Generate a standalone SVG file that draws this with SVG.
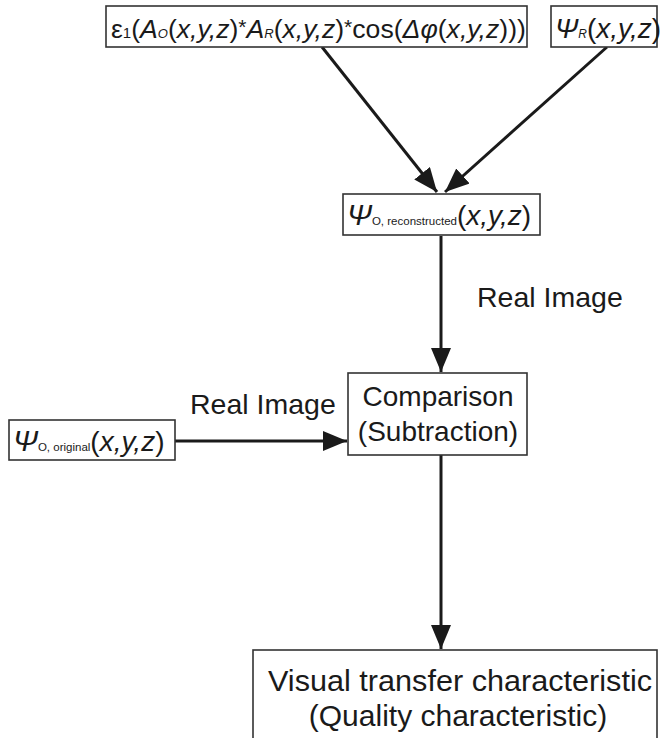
<svg xmlns="http://www.w3.org/2000/svg" width="661" height="738" viewBox="0 0 661 738">
<defs>
<marker id="ah" markerUnits="userSpaceOnUse" markerWidth="26" markerHeight="22" refX="24" refY="10" orient="auto">
<path d="M0,0 L24,10 L0,20 z" fill="#1a1a1a"/>
</marker>
<style>
.box{fill:#fff;stroke:#333;stroke-width:1.6}
.t{font-family:"Liberation Sans",Arial,sans-serif;fill:#1a1a1a}
.i{font-style:italic}
.c{stroke:#1a1a1a;stroke-width:3;fill:none;marker-end:url(#ah)}
</style>
</defs>
<rect width="661" height="738" fill="#fff"/>
<g id="connectors">
<line class="c" x1="322" y1="47" x2="437" y2="192"/>
<line class="c" x1="607" y1="47" x2="445" y2="192"/>
<line class="c" x1="441" y1="236" x2="441" y2="372"/>
<line class="c" x1="175" y1="441" x2="347" y2="441"/>
<line class="c" x1="441" y1="455" x2="441" y2="649"/>
</g>
<g id="amplitude">
<rect class="box" x="106" y="6" width="421" height="41"/>
<text class="t" x="111" y="38" font-size="26.6">ε<tspan font-size="15">1</tspan>(<tspan class="i">A</tspan><tspan class="i" font-size="13">O</tspan>(<tspan class="i">x,y,z</tspan>)<tspan font-size="21" baseline-shift="4">*</tspan><tspan class="i">A</tspan><tspan class="i" font-size="13">R</tspan>(<tspan class="i">x,y,z</tspan>)<tspan font-size="21" baseline-shift="4">*</tspan>cos(<tspan class="i">Δφ</tspan>(<tspan class="i">x,y,z</tspan>)))</text>
</g>
<g id="psiR">
<rect class="box" x="551" y="6" width="106" height="41"/>
<text class="t" x="555" y="38" font-size="28"><tspan class="i">Ψ</tspan><tspan class="i" font-size="12">R</tspan>(<tspan class="i">x,y,z</tspan>)</text>
</g>
<g id="reconstructed">
<rect class="box" x="343" y="194" width="197" height="41"/>
<text class="t" x="347" y="225" font-size="28"><tspan class="i" font-size="30">Ψ</tspan><tspan font-size="11.5">O, reconstructed</tspan>(<tspan class="i">x,y,z</tspan>)</text>
</g>
<g id="label-real-image-1">
<text class="t" x="477" y="307" font-size="28.5">Real Image</text>
</g>
<g id="original">
<rect class="box" x="9" y="420" width="166" height="40"/>
<text class="t" x="13" y="451" font-size="28"><tspan class="i" font-size="30">Ψ</tspan><tspan font-size="11.5">O, original</tspan>(<tspan class="i">x,y,z</tspan>)</text>
</g>
<g id="label-real-image-2">
<text class="t" x="190" y="414" font-size="28.5">Real Image</text>
</g>
<g id="comparison">
<rect class="box" x="348" y="373" width="179" height="82"/>
<text class="t" x="438" y="406" font-size="28" text-anchor="middle">Comparison</text>
<text class="t" x="438" y="441" font-size="28" text-anchor="middle">(Subtraction)</text>
</g>
<g id="quality">
<rect class="box" x="253" y="650" width="404" height="100"/>
<text class="t" x="268" y="691" font-size="30" textLength="384" lengthAdjust="spacingAndGlyphs">Visual transfer characteristic</text>
<text class="t" x="458" y="726" font-size="30" text-anchor="middle">(Quality characteristic)</text>
</g>
</svg>
